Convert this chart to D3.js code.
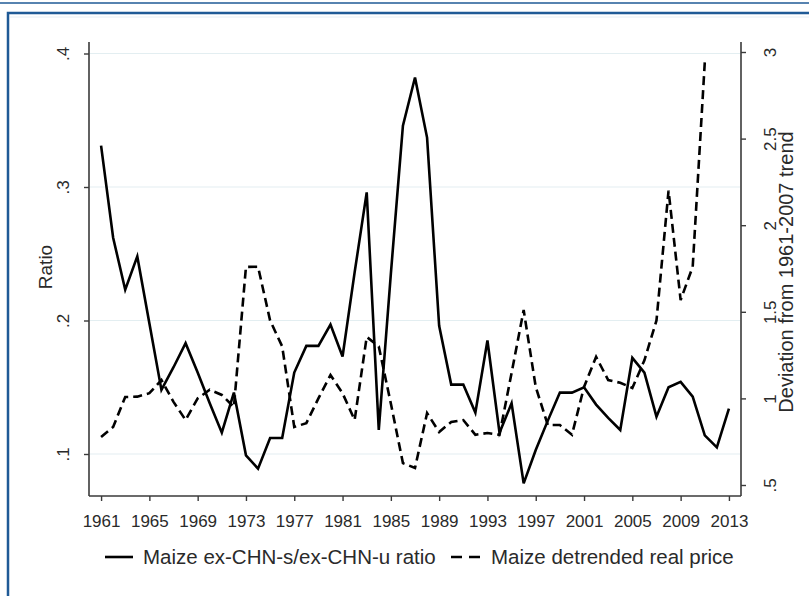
<!DOCTYPE html>
<html>
<head>
<meta charset="utf-8">
<script src="https://cdn.jsdelivr.net/npm/d3@7"></script>
<style>
    body { margin: 0; background: #fff; }
    svg { display: block; font-family: "Liberation Sans", Arial, sans-serif; }
</style>
</head>
<body>
<svg width="809" height="596"></svg>
<script>
var years = [1961, 1962, 1963, 1964, 1965, 1966, 1967, 1968, 1969, 1970,
    1971, 1972, 1973, 1974, 1975, 1976, 1977, 1978, 1979, 1980,
    1981, 1982, 1983, 1984, 1985, 1986, 1987, 1988, 1989, 1990,
    1991, 1992, 1993, 1994, 1995, 1996, 1997, 1998, 1999, 2000,
    2001, 2002, 2003, 2004, 2005, 2006, 2007, 2008, 2009, 2010,
    2011, 2012, 2013];

//ex-CHN-s / ex-CHN-u ratio, left axis
var ratio = [0.331, 0.262, 0.223, 0.248, 0.198, 0.148, 0.165, 0.183, 0.161, 0.138,
    0.116, 0.146, 0.099, 0.089, 0.112, 0.112, 0.161, 0.181, 0.181, 0.197,
    0.173, 0.236, 0.296, 0.118, 0.235, 0.346, 0.382, 0.337, 0.196, 0.152,
    0.152, 0.131, 0.185, 0.116, 0.138, 0.078, 0.103, 0.125, 0.146, 0.146,
    0.150, 0.137, 0.127, 0.118, 0.172, 0.161, 0.128, 0.150, 0.154, 0.143,
    0.114, 0.105, 0.134];

//detrended real price, right axis (stops at 2011)
var price = [0.777, 0.835, 1.008, 1.01, 1.03, 1.106, 0.98, 0.875, 1.0, 1.05,
    1.02, 0.95, 1.759, 1.76, 1.45, 1.30, 0.835, 0.857, 1.0, 1.135,
    1.03, 0.875, 1.355, 1.30, 0.97, 0.627, 0.598, 0.915, 0.806, 0.864,
    0.875, 0.79, 0.80, 0.79, 1.147, 1.51, 1.066, 0.846, 0.846, 0.79,
    1.066, 1.24, 1.106, 1.09, 1.06, 1.22, 1.45, 2.20, 1.568, 1.76,
    2.94];

var xTicks = [1961, 1965, 1969, 1973, 1977, 1981, 1985, 1989, 1993, 1997, 2001, 2005, 2009, 2013];
var leftTicks = [0.1, 0.2, 0.3, 0.4];
var leftLabels = [".1", ".2", ".3", ".4"];
var rightTicks = [0.5, 1, 1.5, 2, 2.5, 3];
var rightLabels = [".5", "1", "1.5", "2", "2.5", "3"];

var seriesNames = ["Maize ex-CHN-s/ex-CHN-u ratio", "Maize detrended real price"];

function main() {
    var svg = d3.select("svg");
    var blue = "#1f5a96";
    var axisColor = "#3a3a3a";
    var textColor = "#2a2a2a";

    //outer frame of the figure
    svg.append("line").attr("x1", 0).attr("x2", 809).attr("y1", 3).attr("y2", 3)
        .attr("stroke", blue).attr("stroke-width", 1.5);
    svg.append("rect").attr("x", 8).attr("y", 13).attr("width", 820).attr("height", 600)
        .attr("fill", "#fff").attr("stroke", blue).attr("stroke-width", 2.5);
    svg.append("line").attr("x1", 10).attr("x2", 809).attr("y1", 17).attr("y2", 17)
        .attr("stroke", "#e6eef5").attr("stroke-width", 1);

    var x = d3.scaleLinear().domain([1960, 2014]).range([89, 741]);
    var yL = d3.scaleLinear().domain([0.1, 0.4]).range([454, 53.5]);
    var yR = d3.scaleLinear().domain([0.5, 3]).range([485, 52]);

    //gridlines
    svg.append("g").selectAll("line")
        .data(leftTicks)
        .enter().append("line")
        .attr("x1", 90).attr("x2", 740)
        .attr("y1", function(d) { return yL(d); })
        .attr("y2", function(d) { return yL(d); })
        .attr("stroke", "#e3eef1").attr("stroke-width", 1.2);

    //axes
    var bottom = svg.append("g").attr("transform", "translate(0,496)")
        .call(d3.axisBottom(x).tickValues(xTicks).tickFormat(d3.format("d")).tickSize(5).tickSizeOuter(0));
    var left = svg.append("g").attr("transform", "translate(89,0)")
        .call(d3.axisLeft(yL).tickValues(leftTicks).tickFormat(function(d, i) { return leftLabels[i]; }).tickSize(5).tickSizeOuter(0));
    var right = svg.append("g").attr("transform", "translate(741,0)")
        .call(d3.axisRight(yR).tickValues(rightTicks).tickFormat(function(d, i) { return rightLabels[i]; }).tickSize(5).tickSizeOuter(0));

    //stretch axis lines to the plot box
    left.select(".domain").attr("d", "M0,42V496");
    right.select(".domain").attr("d", "M0,42V496");
    bottom.select(".domain").attr("d", "M0,0H741");
    left.select(".domain").attr("d", "M0,42V496");

    [bottom, left, right].forEach(function(g) {
        g.select(".domain").attr("stroke", axisColor).attr("stroke-width", 1.6);
        g.selectAll(".tick line").attr("stroke", axisColor).attr("stroke-width", 1.4);
        g.selectAll(".tick text").attr("fill", textColor).attr("font-size", 17)
            .attr("font-family", "'Liberation Sans', Arial, sans-serif");
    });
    bottom.select(".domain").attr("d", "M-0,0H652");
    bottom.attr("transform", "translate(0,496)");
    bottom.select(".domain").attr("transform", "translate(89,0)");

    bottom.selectAll(".tick text").attr("y", 0).attr("dy", 0)
        .attr("transform", "translate(0,31)");
    //vertical tick labels on both y axes
    left.selectAll(".tick text").attr("x", 0).attr("dy", 0)
        .attr("text-anchor", "middle")
        .attr("transform", "translate(-20,0) rotate(-90)");
    right.selectAll(".tick text").attr("x", 0).attr("dy", 0)
        .attr("text-anchor", "middle")
        .attr("transform", "translate(35,0) rotate(-90)");

    //axis titles
    svg.append("text").attr("transform", "translate(52,267) rotate(-90)")
        .attr("text-anchor", "middle").attr("font-size", 19).attr("fill", textColor)
        .text("Ratio");
    svg.append("text").attr("transform", "translate(793,272) rotate(-90)")
        .attr("text-anchor", "middle").attr("font-size", 20).attr("fill", textColor)
        .text("Deviation from 1961-2007 trend");

    //series
    var ratioLine = d3.line()
        .x(function(d, i) { return x(years[i]); })
        .y(function(d) { return yL(d); });
    var priceLine = d3.line()
        .x(function(d, i) { return x(years[i]); })
        .y(function(d) { return yR(d); });

    svg.append("path").datum(price)
        .attr("d", priceLine)
        .attr("fill", "none").attr("stroke", "#000").attr("stroke-width", 2.6)
        .attr("stroke-dasharray", "9,5");
    svg.append("path").datum(ratio)
        .attr("d", ratioLine)
        .attr("fill", "none").attr("stroke", "#000").attr("stroke-width", 2.6);

    //legend
    var legend = svg.append("g");
    legend.append("line").attr("x1", 105).attr("x2", 133).attr("y1", 557).attr("y2", 557)
        .attr("stroke", "#000").attr("stroke-width", 2.6);
    legend.append("text").attr("x", 143).attr("y", 564).attr("font-size", 20.5)
        .attr("fill", textColor).text(seriesNames[0]);
    legend.append("line").attr("x1", 451).attr("x2", 481).attr("y1", 557).attr("y2", 557)
        .attr("stroke", "#000").attr("stroke-width", 2.6).attr("stroke-dasharray", "11,7");
    legend.append("text").attr("x", 491).attr("y", 564).attr("font-size", 20.5)
        .attr("fill", textColor).text(seriesNames[1]);
}

main();
</script>
</body>
</html>
